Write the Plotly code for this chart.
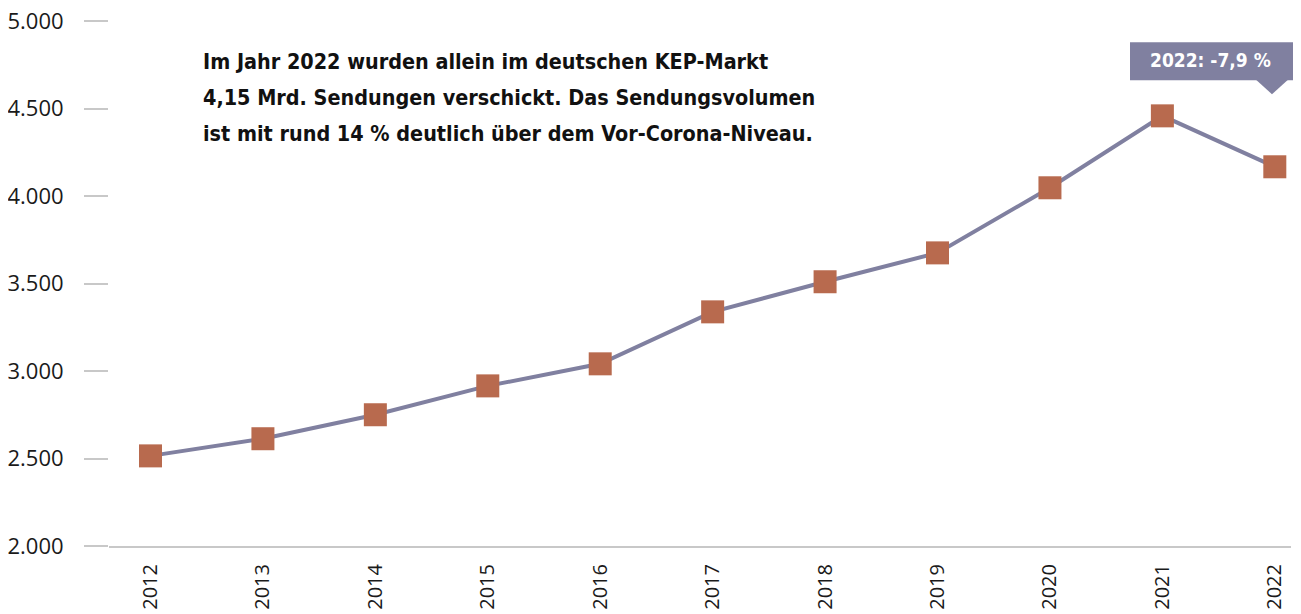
import plotly.graph_objects as go

years = [2012, 2013, 2014, 2015, 2016, 2017, 2018, 2019, 2020, 2021, 2022]
volumes = [2515, 2613, 2750, 2915, 3041, 3338, 3510, 3675, 4047, 4458, 4167]
y_ticks = [2000, 2500, 3000, 3500, 4000, 4500, 5000]
y_ticktext = ["2.000", "2.500", "3.000", "3.500", "4.000", "4.500", "5.000"]
note_lines = [
    "Im Jahr 2022 wurden allein im deutschen KEP-Markt",
    "4,15 Mrd. Sendungen verschickt. Das Sendungsvolumen",
    "ist mit rund 14 % deutlich über dem Vor-Corona-Niveau.",
]
callout_text = "2022: -7,9 %"

LINE = "#8080a0"
MARK = "#b86a4e"
AXIS = "#c8c8c8"

OFF = 8  # page body margin
W, H = 1293, 606
# target screen positions of plot area
SL, SR, ST, SB = 109, 1291, 20.7, 545.7
L, T = SL - OFF, ST - OFF
R, B = W - (SR - OFF), H - (SB - OFF)
pw = W - L - R
ph = H - T - B

def px(x):
    return (x - SL) / pw

def py(y):
    return (SB - y) / ph

fig = go.Figure()
fig.add_trace(go.Scatter(
    x=years, y=volumes, mode="lines+markers",
    line=dict(color=LINE, width=4),
    marker=dict(symbol="square", size=23, color=MARK),
    hoverinfo="x+y", showlegend=False,
))

fig.update_layout(
    width=W, height=H,
    margin=dict(l=L, r=R, t=T, b=B, autoexpand=False, pad=0),
    plot_bgcolor="white", paper_bgcolor="white",
    font=dict(family="Open Sans", size=22, color="#1a1a1a"),
    xaxis=dict(
        range=[2011.631, 2022.144], automargin=False,
        tickvals=years, ticktext=[str(y) for y in years],
        tickangle=-90, showgrid=False, zeroline=False,
        showline=True, linecolor=AXIS, linewidth=2,
        ticks="", ticklabelstandoff=8, ticklabeloverflow="allow",
        tickfont=dict(family="Open Sans", size=20, color="#1a1a1a"),
    ),
    yaxis=dict(
        range=[2000, 5000], automargin=False,
        tickvals=y_ticks, ticktext=y_ticktext,
        showgrid=False, zeroline=False, showline=False,
        ticks="outside", ticklen=24, tickcolor=AXIS, tickwidth=1.5,
        ticklabelstandoff=16, ticklabeloverflow="allow",
        tickfont=dict(family="Open Sans", size=22, color="#1a1a1a"),
    ),
)

for i, line in enumerate(note_lines):
    fig.add_annotation(
        xref="paper", yref="paper", x=px(201), y=py(61 + 36 * i),
        xanchor="left", yanchor="middle", showarrow=False, text="<b>" + line + "</b>",
        font=dict(family="DejaVu Sans Condensed", size=21.4, color="#111111"),
    )

fig.add_shape(type="rect", xref="paper", yref="paper",
              x0=px(1130), x1=px(1301), y0=py(80), y1=py(42),
              fillcolor=LINE, line=dict(width=0), layer="above")
fig.add_shape(type="path", xref="paper", yref="paper",
              path=f"M {px(1256)} {py(79.5)} L {px(1288)} {py(79.5)} L {px(1272)} {py(94)} Z",
              fillcolor=LINE, line=dict(width=0), layer="above")
fig.add_annotation(
    xref="paper", yref="paper", x=px(1210), y=py(60),
    xanchor="center", yanchor="middle", showarrow=False, text="<b>" + callout_text + "</b>",
    font=dict(family="DejaVu Sans Condensed", size=19, color="white"),
)

fig.write_html("out.html")
